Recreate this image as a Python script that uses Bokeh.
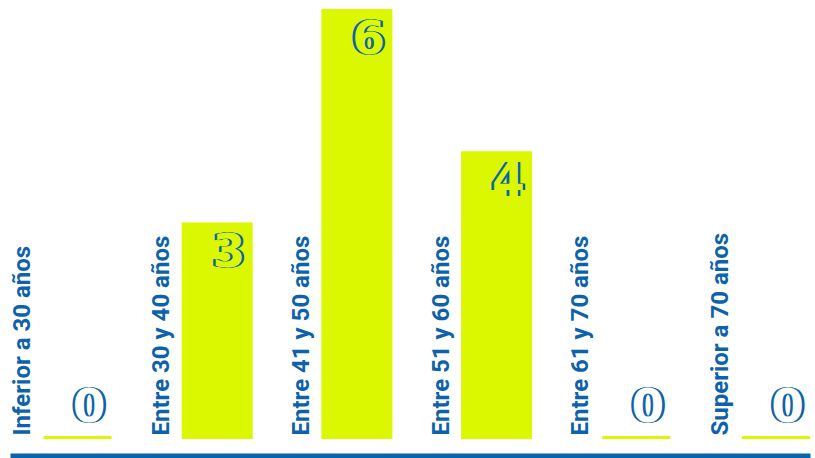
import math
from bokeh.plotting import figure
from bokeh.models import ColumnDataSource, Range1d, FixedTicker
from bokeh.embed import file_html
from bokeh.resources import INLINE
from bokeh.core.properties import value

# ---- data ----
categories = ["Inferior a 30 años", "Entre 30 y 40 años", "Entre 41 y 50 años",
              "Entre 51 y 60 años", "Entre 61 y 70 años", "Superior a 70 años"]
counts = [0, 3, 6, 4, 0, 0]

BAR = "#dcf800"
BLUE = "#0d62ab"

W, H = 815, 458
AX_H = 0
FH = H - AX_H
x_scale = 139.7
x0_px = 77
xs = -x0_px / x_scale
xe = xs + W / x_scale
zero_px = 437
top_px = 10
y_scale = (zero_px - top_px) / 6
y_end = 6 + top_px / y_scale
y_start = -(FH - zero_px) / y_scale

idx = list(range(len(categories)))
src = ColumnDataSource(dict(
    x=idx,
    cat=categories,
    val=counts,
    lab=[str(v) for v in counts],
    fill=[BAR if v > 0 else "white" for v in counts],
    yoff=[26 if v > 0 else -33 for v in counts],
))

p = figure(width=W, height=H, min_border=0,
           x_range=Range1d(xs, xe), y_range=Range1d(y_start, y_end),
           output_backend="svg", toolbar_location=None)
p.background_fill_color = "white"
p.border_fill_color = "white"
p.outline_line_color = None
p.grid.visible = False
p.yaxis.visible = False
p.xaxis.ticker = FixedTicker(ticks=[])
p.xaxis.major_label_text_font_size = "0px"
p.xaxis.major_tick_line_color = None
p.xaxis.minor_tick_line_color = None
p.xaxis.major_tick_out = 0
p.xaxis.major_tick_in = 0
p.xaxis.major_label_standoff = 0
p.xaxis.axis_line_color = BLUE
p.xaxis.axis_line_width = 10
p.xaxis.bounds = (xs + 10 / x_scale, xs + 810 / x_scale)

p.vbar(x="x", top="val", bottom=0, width=68 / x_scale, source=src,
       fill_color=BAR, line_color=BAR, line_width=3, line_join="miter")

p.text(x="x", y=0, text="cat", source=src, angle=math.pi / 2,
       x_offset=-56, y_offset=-2,
       text_align="left", text_baseline="middle",
       text_font=value("Roboto"), text_font_style="bold",
       text_font_size="24px", text_color=BLUE)

r = 2.6
d = 1.85
for dx, dy in [(-r, 0), (r, 0), (0, -r), (0, r), (-d, -d), (d, -d), (-d, d), (d, d)]:
    p.text(x="x", y="val", text="lab", source=src,
           x_offset=28 + dx, y_offset="yoff",
           text_align="right", text_baseline="alphabetic",
           text_font=value("DejaVu Sans"), text_font_style="bold",
           text_font_size="47px", text_color=BLUE)
p.text(x="x", y="val", text="lab", source=src,
       x_offset=28, y_offset="yoff",
       text_align="right", text_baseline="alphabetic",
       text_font=value("DejaVu Sans"), text_font_style="bold",
       text_font_size="47px", text_color="fill")

open("out.html", "w").write(file_html(p, INLINE))
